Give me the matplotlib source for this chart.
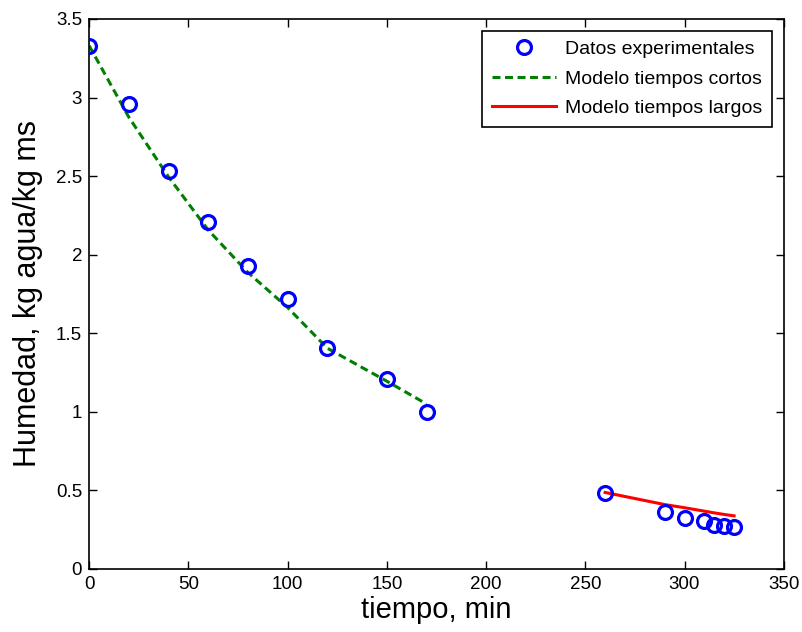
import numpy as np
import matplotlib.pyplot as plt
import matplotlib

plt.rcParams['font.family'] = ['Liberation Sans', 'DejaVu Sans']

# datos experimentales
t_exp = [0, 20, 40, 60, 80, 100, 120, 150, 170, 260, 290, 300, 310, 315, 320, 325]
x_exp = [3.326, 2.96, 2.531, 2.205, 1.927, 1.715, 1.407, 1.212, 1.0,
         0.481, 0.364, 0.326, 0.305, 0.279, 0.273, 0.265]

# modelo tiempos cortos
t_cortos = [0, 20, 40, 60, 80, 100, 120, 150, 170]
x_cortos = [3.33, 2.875, 2.495, 2.157, 1.887, 1.664, 1.405, 1.195, 1.05]

# modelo tiempos largos
t_largos = [260, 290, 300, 310, 315, 320, 325]
x_largos = [0.487, 0.41, 0.39, 0.368, 0.357, 0.347, 0.338]

fig = plt.figure(figsize=(8.03, 6.32), dpi=100)
ax = fig.add_axes([0.111, 0.0997, 0.865, 0.8703])

ax.plot(t_exp, x_exp, 'o', color='#0000ff', mfc='none', ms=10, mew=2.3,
        label='Datos experimentales', zorder=3)
ax.plot(t_cortos, x_cortos, '--', color='#008000', lw=2.2, dashes=(2.6, 1.5),
        label='Modelo tiempos cortos')
ax.plot(t_largos, x_largos, '-', color='#ff0000', lw=2.2,
        label='Modelo tiempos largos')

ax.set_xlim(0, 350)
ax.set_ylim(0, 3.5)
ax.set_xticks(np.arange(0, 351, 50))
ax.set_yticks(np.arange(0, 3.6, 0.5))
ax.set_yticklabels(['0', '0.5', '1', '1.5', '2', '2.5', '3', '3.5'])
ax.tick_params(direction='in', top=True, right=True, length=6, width=1,
               labelsize=13.5, pad=5)
for s in ax.spines.values():
    s.set_linewidth(1.2)

ax.set_xlabel('tiempo, min', fontsize=21, labelpad=2)
ax.set_ylabel('Humedad, kg agua/kg ms', fontsize=22, labelpad=9)

leg = ax.legend(loc='upper right', fontsize=14, frameon=True, fancybox=False,
                edgecolor='black', framealpha=1, borderaxespad=0.6,
                handlelength=3.3, handletextpad=0.45, labelspacing=0.62,
                borderpad=0.5)
leg.get_frame().set_linewidth(1.2)

fig.savefig('out.png', dpi=100)
